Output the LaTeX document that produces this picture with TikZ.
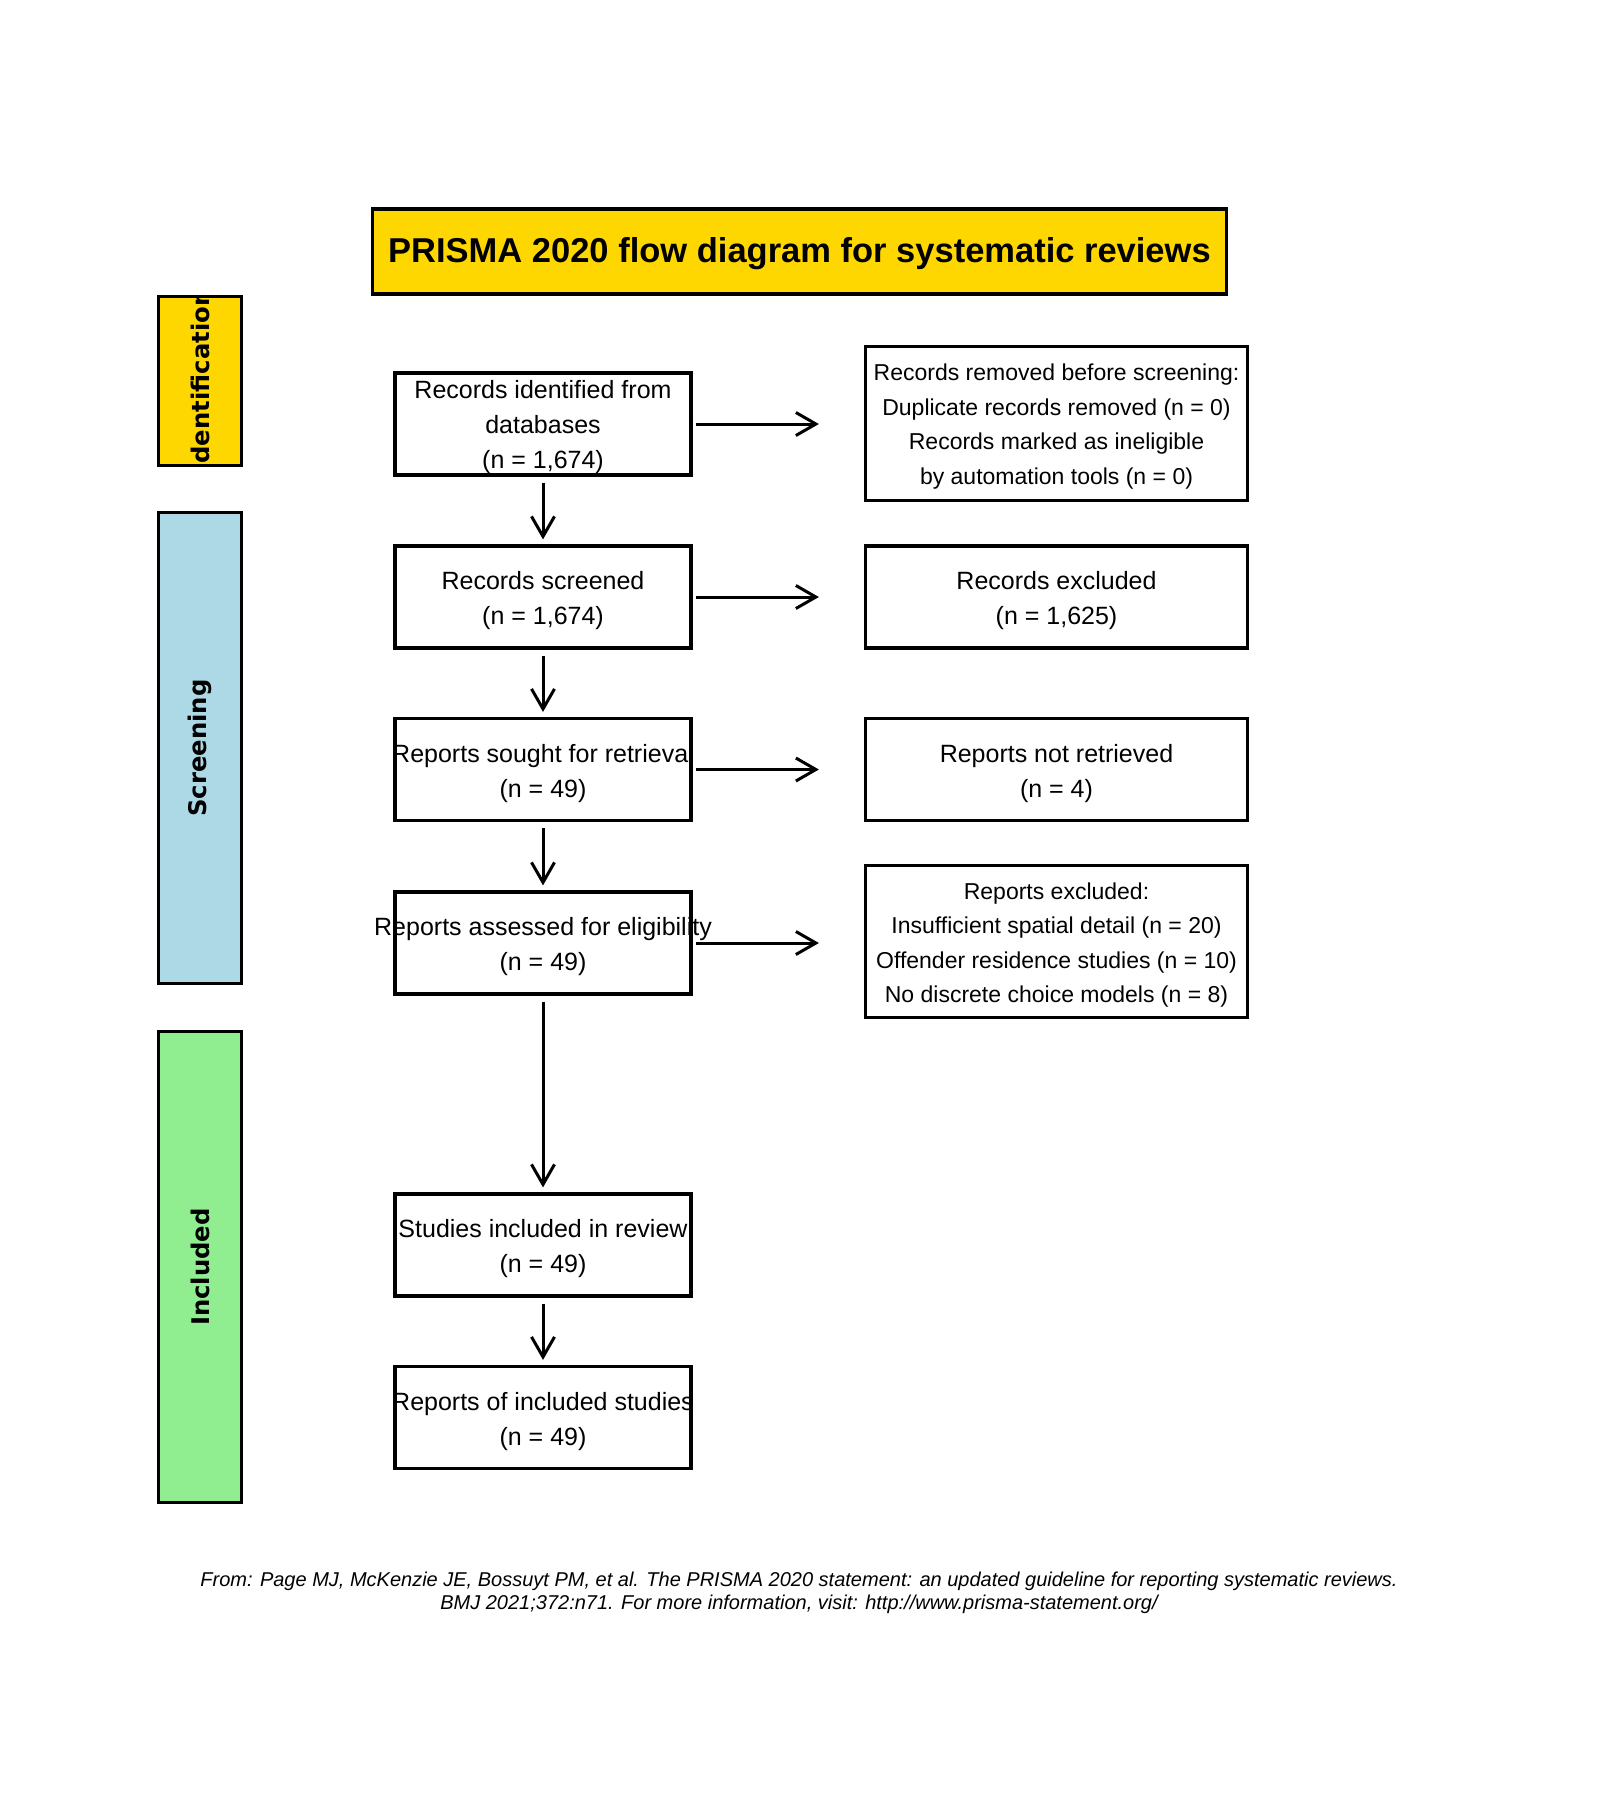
\documentclass[tikz,border=0pt]{standalone}
\usepackage{fontspec}
\setmainfont{Liberation Sans}
\newfontfamily\sidefont{DejaVu Sans}
\usetikzlibrary{arrows.meta}
\definecolor{prgold}{HTML}{FFD700}
\definecolor{prblue}{HTML}{ADD8E6}
\definecolor{prgreen}{HTML}{90EE90}
\begin{document}
\begin{tikzpicture}[x=1pt,y=-1pt,
  flowbox/.style={draw, line width=3.2pt, minimum width=296pt, minimum height=102pt, inner sep=0pt},
  rbox/.style={flowbox, minimum width=382pt},
  boxtext/.style={inner sep=0pt, align=center, font=\fontsize{25}{35}\selectfont},
  smalltext/.style={inner sep=0pt, align=center, font=\fontsize{23}{34.5}\selectfont},
  sidebox/.style={draw, line width=3.2pt, minimum width=83pt, inner sep=0pt},
  sidelabel/.style={rotate=90, inner sep=0pt, font=\sidefont\bfseries\fontsize{24.3}{28}\selectfont},
  arr/.style={line width=3pt, -{Straight Barb[length=20pt,width=23pt]}},
  ]
\useasboundingbox (0,0) rectangle (1600,1800);

% title
\node[draw, line width=3.6pt, fill=prgold, minimum width=854pt, minimum height=85pt,
  inner sep=0pt] (title) at (799.5,251.5) {};
\node[inner sep=0pt, font=\bfseries\fontsize{34.5}{40}\selectfont] (titletext)
  at ([yshift=-2pt]title.center) {PRISMA 2020 flow diagram for systematic reviews};

% side boxes
\node[sidebox, fill=prgold, minimum height=169pt,
  path picture={\node[sidelabel] at (path picture bounding box.center) {Identification};}]
  (sid) at (200,381) {};
\node[sidebox, fill=prblue, minimum height=471pt] (sscr) at (200,748) {};
\node[sidelabel] (lscr) at (sscr.center) {Screening};
\node[sidebox, fill=prgreen, minimum height=471pt] (sinc) at (200,1267) {};
\node[sidelabel] (linc) at (sinc.center) {Included};

% left column boxes
\node[flowbox] (b1) at (543,424) {};
\node[flowbox] (b2) at (543,597) {};
\node[flowbox] (b3) at (543,769.5) {};
\node[flowbox] (b4) at (543,943) {};
\node[flowbox] (b5) at (543,1245) {};
\node[flowbox] (b6) at (543,1417.5) {};
% left column texts
\node[boxtext] (t1) at ([yshift=-3.5pt]b1.center) {Records identified from\\databases\\(n = 1,674)};
\node[boxtext] (t2) at ([yshift=-4pt]b2.center) {Records screened\\(n = 1,674)};
\node[boxtext] (t3) at ([yshift=-4pt]b3.center) {Reports sought for retrieval\\(n = 49)};
\node[boxtext] (t4) at ([yshift=-4pt]b4.center) {Reports assessed for eligibility\\(n = 49)};
\node[boxtext] (t5) at ([yshift=-4pt]b5.center) {Studies included in review\\(n = 49)};
\node[boxtext] (t6) at ([yshift=-4pt]b6.center) {Reports of included studies\\(n = 49)};

% right column boxes
\node[rbox, minimum height=154pt] (r1) at (1056.5,423.5) {};
\node[rbox] (r2) at (1056.5,597) {};
\node[rbox] (r3) at (1056.5,769.5) {};
\node[rbox, minimum height=152pt] (r4) at (1056.5,941.5) {};
% right column texts
\node[smalltext] (u1) at ([yshift=-3pt]r1.center)
  {Records removed before screening:\\Duplicate records removed (n = 0)\\Records marked as ineligible\\by automation tools (n = 0)};
\node[boxtext] (u2) at ([yshift=-4pt]r2.center) {Records excluded\\(n = 1,625)};
\node[boxtext] (u3) at ([yshift=-4pt]r3.center) {Reports not retrieved\\(n = 4)};
\node[smalltext] (u4) at ([yshift=-3.5pt]r4.center)
  {Reports excluded:\\Insufficient spatial detail (n = 20)\\Offender residence studies (n = 10)\\No discrete choice models (n = 8)};

% vertical arrows
\foreach \a/\b in {b1/b2,b2/b3,b3/b4,b4/b5,b5/b6}
  \draw[arr, shorten <=6pt, shorten >=5pt] (\a) -- (\b);

% horizontal arrows
\foreach \a/\b in {b1/r1,b2/r2,b3/r3,b4/r4}
  \draw[arr, shorten <=3pt, shorten >=45pt] (\a.east) -- (\a.east -| \b.west);

% footer
\node[align=center, inner sep=0pt, font=\itshape\fontsize{20}{23.5}\selectfont] (foot) at (799,1593)
  {From: Page MJ, McKenzie JE, Bossuyt PM, et al. The PRISMA 2020 statement: an updated guideline for reporting systematic reviews.\\
   BMJ 2021;372:n71. For more information, visit: http://www.prisma-statement.org/};
\end{tikzpicture}
\end{document}
